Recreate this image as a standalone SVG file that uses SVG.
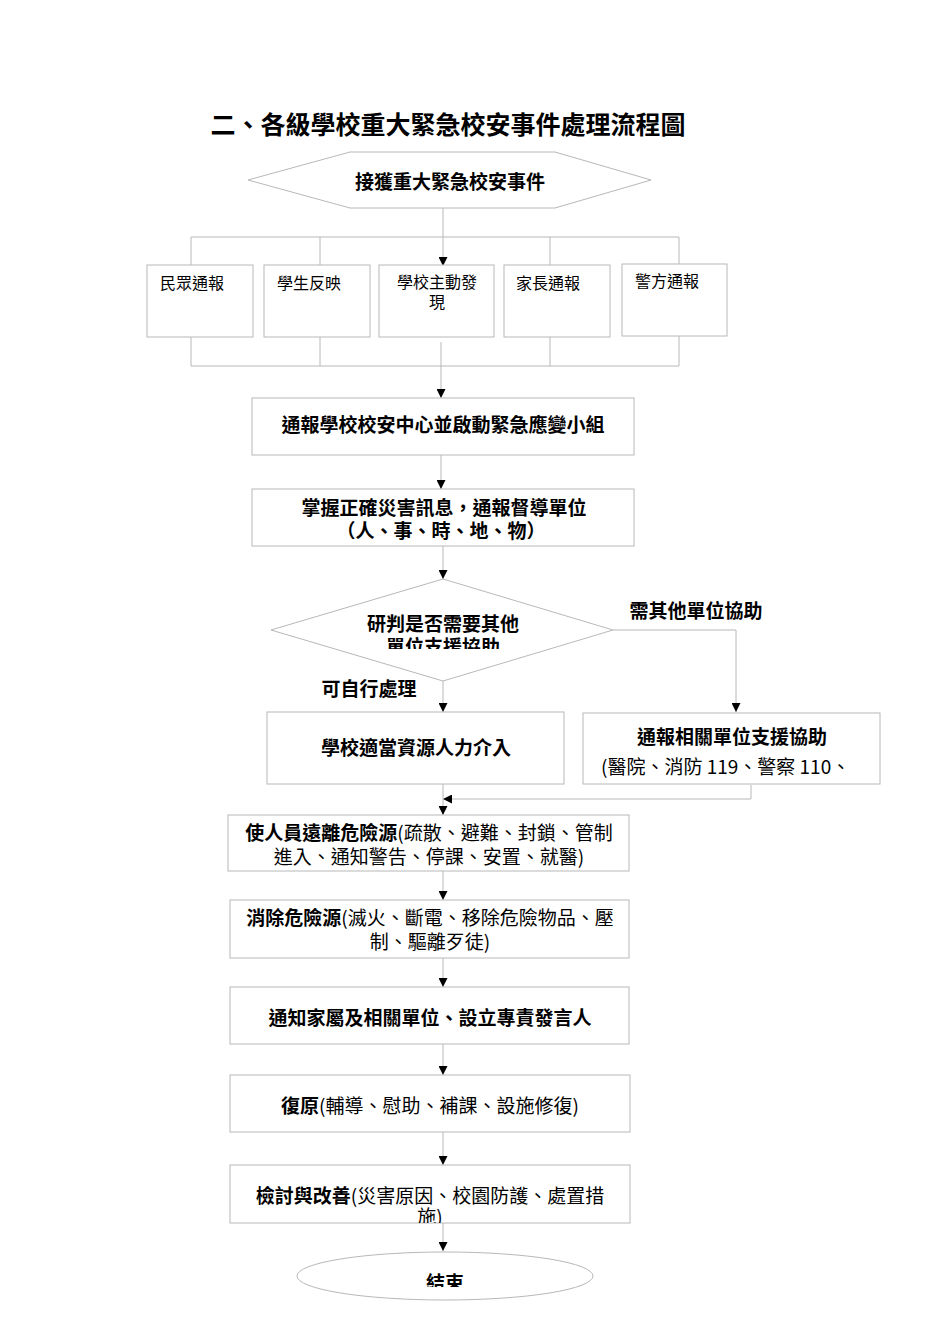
<svg xmlns="http://www.w3.org/2000/svg" width="950" height="1344" viewBox="0 0 950 1344">
<style>
text{font-family:"Noto Sans CJK TC","Noto Sans CJK SC",sans-serif;fill:#000;}
.b{font-weight:bold;font-size:19px;}
.r{font-weight:normal;font-size:19px;}
.s{font-weight:normal;font-size:16px;}
.shape{fill:#fff;stroke:#b8b8b8;stroke-width:1;}
.c{fill:none;stroke:#b8b8b8;stroke-width:1;}
</style>
<defs>
<marker id="ah" viewBox="0 0 10 10" refX="10" refY="5" markerWidth="10" markerHeight="9" markerUnits="userSpaceOnUse" orient="auto">
<path d="M0,0 L10,5 L0,10 z" fill="#000"/>
</marker>
<clipPath id="cd"><rect x="271" y="579" width="342" height="70"/></clipPath>
<clipPath id="ck"><rect x="230" y="1165" width="400" height="58"/></clipPath>
<clipPath id="ce"><rect x="296" y="1252" width="300" height="35"/></clipPath>
</defs>
<rect width="950" height="1344" fill="#fff"/>
<text x="448" y="123" font-size="25" font-weight="bold" text-anchor="middle" dominant-baseline="central">二、各級學校重大緊急校安事件處理流程圖</text>

<g id="connectors">
<line class="c" x1="443" y1="208" x2="443" y2="266" marker-end="url(#ah)"/>
<polyline class="c" points="191,265 191,237 679,237 679,264"/>
<line class="c" x1="320" y1="237" x2="320" y2="265"/>
<line class="c" x1="550" y1="237" x2="550" y2="265"/>
<polyline class="c" points="191,337 191,366 679,366 679,336"/>
<line class="c" x1="320" y1="337" x2="320" y2="366"/>
<line class="c" x1="550" y1="337" x2="550" y2="366"/>
<line class="c" x1="441" y1="342" x2="441" y2="398" marker-end="url(#ah)"/>
<line class="c" x1="441" y1="455" x2="441" y2="489" marker-end="url(#ah)"/>
<line class="c" x1="443" y1="546" x2="443" y2="579" marker-end="url(#ah)"/>
<polyline class="c" points="613,630 736,630 736,712" marker-end="url(#ah)"/>
<line class="c" x1="443" y1="681" x2="443" y2="712" marker-end="url(#ah)"/>
<polyline class="c" points="751,785 751,799 443,799" marker-end="url(#ah)"/>
<line class="c" x1="443" y1="784" x2="443" y2="815" marker-end="url(#ah)"/>
<line class="c" x1="443" y1="871" x2="443" y2="900" marker-end="url(#ah)"/>
<line class="c" x1="443" y1="958" x2="443" y2="987" marker-end="url(#ah)"/>
<line class="c" x1="443" y1="1044" x2="443" y2="1075" marker-end="url(#ah)"/>
<line class="c" x1="443" y1="1132" x2="443" y2="1165" marker-end="url(#ah)"/>
<line class="c" x1="443" y1="1223" x2="443" y2="1251" marker-end="url(#ah)"/>
</g>

<g id="start">
<polygon class="shape" points="248,180 350,152 555,152 651,180 555,208 350,208"/>
<text class="b" x="450" y="180" text-anchor="middle" dominant-baseline="central">接獲重大緊急校安事件</text>
</g>
<g id="n1"><rect class="shape" x="147" y="265" width="106" height="72"/><text class="s" x="160" y="282" dominant-baseline="central">民眾通報</text></g>
<g id="n2"><rect class="shape" x="264" y="265" width="106" height="72"/><text class="s" x="277" y="282" dominant-baseline="central">學生反映</text></g>
<g id="n3"><rect class="shape" x="379" y="265" width="115" height="72"/><text class="s" x="437" y="281" text-anchor="middle" dominant-baseline="central">學校主動發</text><text class="s" x="437" y="301" text-anchor="middle" dominant-baseline="central">現</text></g>
<g id="n4"><rect class="shape" x="504" y="265" width="106" height="72"/><text class="s" x="516" y="282" dominant-baseline="central">家長通報</text></g>
<g id="n5"><rect class="shape" x="622" y="264" width="105" height="72"/><text class="s" x="635" y="280" dominant-baseline="central">警方通報</text></g>

<g id="report"><rect class="shape" x="252" y="398" width="382" height="57"/><text class="b" x="443" y="423" text-anchor="middle" dominant-baseline="central">通報學校校安中心並啟動緊急應變小組</text></g>
<g id="grasp"><rect class="shape" x="252" y="489" width="382" height="57"/>
<text class="b" x="444" y="506" text-anchor="middle" dominant-baseline="central">掌握正確災害訊息，通報督導單位</text>
<text class="b" x="441" y="529" text-anchor="middle" dominant-baseline="central">（人、事、時、地、物）</text></g>

<g id="decision"><polygon class="shape" points="271,630 443,579 613,630 443,681"/>
<text class="b" x="443" y="622" text-anchor="middle" dominant-baseline="central">研判是否需要其他</text>
<text class="b" x="443" y="645" text-anchor="middle" dominant-baseline="central" clip-path="url(#cd)">單位支援協助</text></g>
<text class="b" x="696" y="609" text-anchor="middle" dominant-baseline="central">需其他單位協助</text>
<text class="b" x="369" y="687" text-anchor="middle" dominant-baseline="central">可自行處理</text>

<g id="self"><rect class="shape" x="267" y="712" width="297" height="72"/><text class="b" x="416" y="746" text-anchor="middle" dominant-baseline="central">學校適當資源人力介入</text></g>
<g id="external"><rect class="shape" x="583" y="713" width="297" height="71"/>
<text class="b" x="732" y="735" text-anchor="middle" dominant-baseline="central">通報相關單位支援協助</text>
<text class="r" x="601" y="765" dominant-baseline="central">(醫院、消防 119、警察 110、</text></g>

<g id="evacuate"><rect class="shape" x="228" y="815" width="401" height="56"/>
<text x="429" y="831" text-anchor="middle" dominant-baseline="central"><tspan class="b">使人員遠離危險源</tspan><tspan class="r">(疏散、避難、封鎖、管制</tspan></text>
<text class="r" x="429" y="855" text-anchor="middle" dominant-baseline="central">進入、通知警告、停課、安置、就醫)</text></g>

<g id="eliminate"><rect class="shape" x="230" y="900" width="399" height="58"/>
<text x="430" y="916" text-anchor="middle" dominant-baseline="central"><tspan class="b">消除危險源</tspan><tspan class="r">(滅火、斷電、移除危險物品、壓</tspan></text>
<text class="r" x="430" y="940" text-anchor="middle" dominant-baseline="central">制、驅離歹徒)</text></g>

<g id="notify"><rect class="shape" x="230" y="987" width="399" height="57"/><text class="b" x="430" y="1016" text-anchor="middle" dominant-baseline="central">通知家屬及相關單位、設立專責發言人</text></g>

<g id="restore"><rect class="shape" x="230" y="1075" width="400" height="57"/>
<text x="430" y="1104" text-anchor="middle" dominant-baseline="central"><tspan class="b">復原</tspan><tspan class="r">(輔導、慰助、補課、設施修復)</tspan></text></g>

<g id="review"><rect class="shape" x="230" y="1165" width="400" height="58"/>
<text x="430" y="1194" text-anchor="middle" dominant-baseline="central"><tspan class="b">檢討與改善</tspan><tspan class="r">(災害原因、校園防護、處置措</tspan></text>
<text class="r" x="430" y="1215" text-anchor="middle" dominant-baseline="central" clip-path="url(#ck)">施)</text></g>

<g id="end"><ellipse class="shape" cx="445" cy="1276" rx="148" ry="24"/>
<text class="b" x="445" y="1281" text-anchor="middle" dominant-baseline="central" clip-path="url(#ce)">結束</text></g>
</svg>
